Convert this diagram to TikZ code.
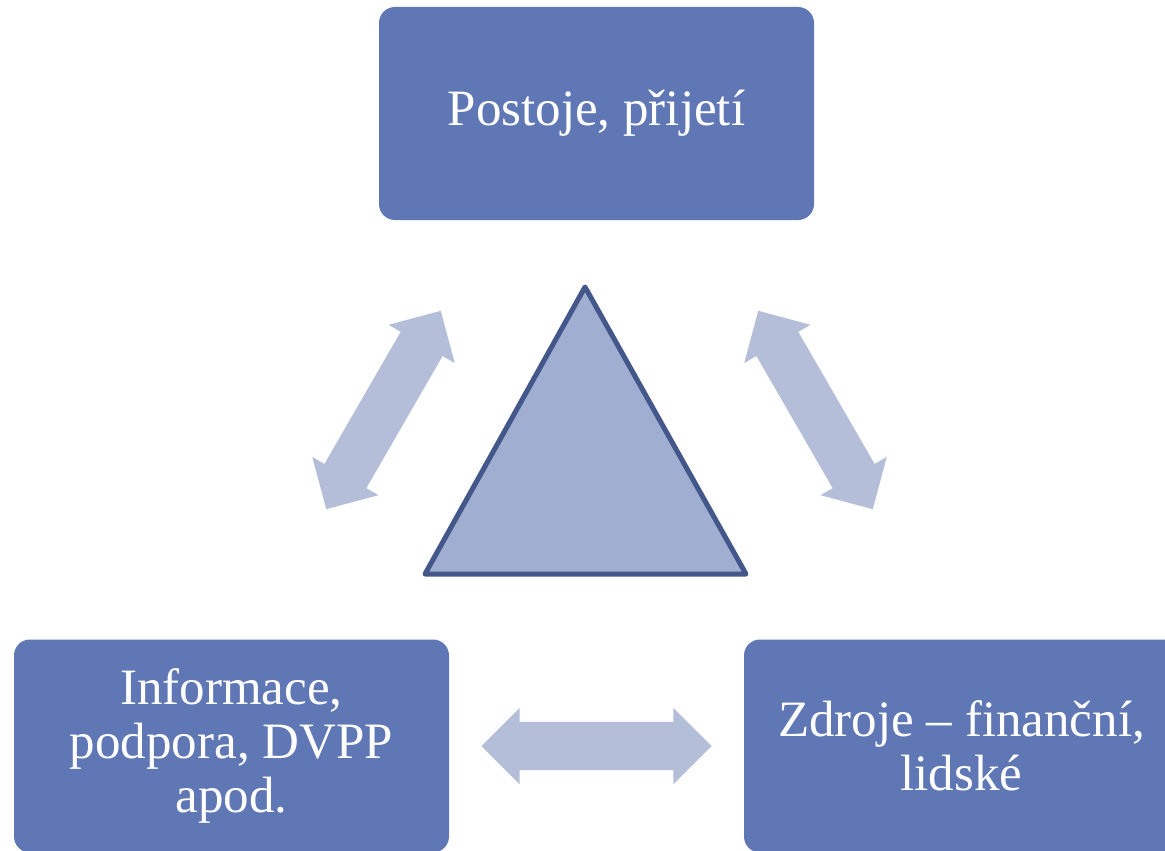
\documentclass[tikz,border=0pt]{standalone}
\usepackage{fontspec}
\setmainfont{Liberation Serif}
\usetikzlibrary{shapes.arrows,calc}
\definecolor{boxblue}{HTML}{6077B5}
\definecolor{arrowblue}{HTML}{B4BED9}
\definecolor{trifill}{HTML}{A0AED2}
\definecolor{tristroke}{HTML}{44578A}
\begin{document}
\begin{tikzpicture}[x=1pt,y=-1pt,
  box/.style={rectangle, rounded corners=16pt, fill=boxblue, text=white,
    minimum width=435pt, minimum height=213pt, align=center,
    font=\fontsize{51}{54}\selectfont, inner sep=0pt},
  blockarrow/.style={double arrow, fill=arrowblue, draw=none, inner xsep=0pt,
    inner ysep=24pt, double arrow head extend=14pt, double arrow tip angle=90,
    minimum width=0pt}]
\useasboundingbox (0,0) rectangle (1165,851);
\clip (0,0) rectangle (1165,851);
\fill[white] (0,0) rectangle (1165,851);
\node[box] (top) at (596.5,113.5) {\raisebox{-3pt}{Postoje, přijetí}};
\node[box] (bl) at (231.5,746) {Informace,\\podpora, DVPP\\apod.};
\node[box] (br) at (961.5,746) {Zdroje – finanční,\\lidské};
\node[blockarrow, minimum height=229pt, rotate=60] (al) at (383.5,410) {};
\node[blockarrow, minimum height=229pt, rotate=-60] (ar) at (815.5,410) {};
\node[blockarrow, minimum height=230pt] (ab) at ($(bl.east)!0.5!(br.west)$) {};
\coordinate (tA) at (585,287);
\coordinate (tB) at (425,574);
\coordinate (tC) at (746,574);
\filldraw[fill=trifill, draw=tristroke, line width=5pt, line join=round] (tA) -- (tB) -- (tC) -- cycle;
\end{tikzpicture}
\end{document}
